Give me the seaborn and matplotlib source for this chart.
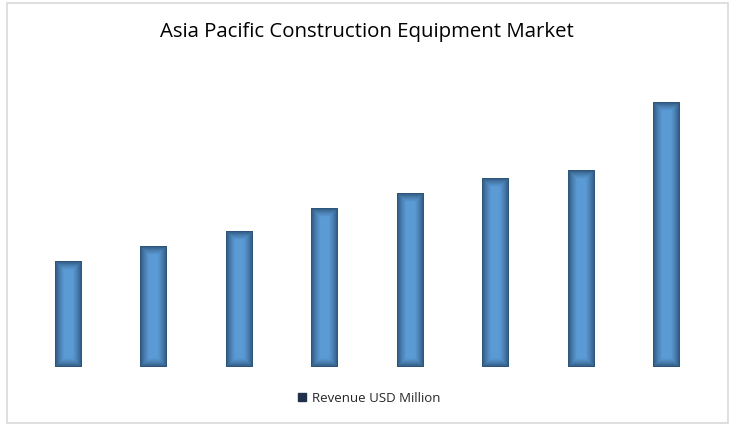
import numpy as np
import pandas as pd
import matplotlib
matplotlib.use("Agg")
import matplotlib.pyplot as plt
from matplotlib.patches import Rectangle
from matplotlib.lines import Line2D
from matplotlib.colors import to_rgb
import seaborn as sns

years = ["2017", "2018", "2019", "2020", "2021", "2022", "2023", "2024"]
revenue = [106, 121, 136, 159, 174, 189, 197, 265]

sns.set_style("white")
plt.rcParams['font.family'] = ['Open Sans', 'DejaVu Sans']

W, H = 741, 434
fig = plt.figure(figsize=(W / 100, H / 100), dpi=100)
left, right, top, bottom = 25.25, 709.25, 80, 367
ax = fig.add_axes([left / W, 1 - bottom / H, (right - left) / W, (bottom - top) / H])

df = pd.DataFrame({"year": years, "revenue": revenue})
sns.barplot(data=df, x="year", y="revenue", ax=ax, color="#5B9BD5", width=0.305,
            saturation=1, linewidth=0)
ax.set_ylim(0, bottom - top)
ax.set_xlim(-0.5, len(years) - 0.5)
ax.axis("off")

base = np.array(to_rgb("#5B9BD5"))
dark = np.array(to_rgb("#27496c"))
fig.canvas.draw()
for p in list(ax.patches):
    x0, y0 = p.get_x(), p.get_y()
    w, h = p.get_width(), p.get_height()
    (px0, py0) = ax.transData.transform((x0, y0))
    (px1, py1) = ax.transData.transform((x0 + w, y0 + h))
    nw, nh = max(int(round(px1 - px0)), 2), max(int(round(py1 - py0)), 2)
    xs = np.arange(nw) + 0.5
    ys = np.arange(nh) + 0.5
    dx = np.minimum(xs, nw - xs)[None, :]
    dy = np.minimum(ys, nh - ys)[:, None]
    d = np.minimum(dx, dy)
    t = np.clip(d / 9.0, 0, 1) ** 0.65
    img = dark[None, None, :] + (base - dark)[None, None, :] * t[:, :, None]
    im = ax.imshow(img, extent=[x0, x0 + w, y0, y0 + h], aspect="auto",
                   interpolation="bilinear", zorder=3)
    im.set_clip_path(p)
ax.set_xlim(-0.5, len(years) - 0.5)
ax.set_ylim(0, bottom - top)

fig.text(367 / W, 1 - 32 / H, "Asia Pacific Construction Equipment Market",
         ha="center", va="center", fontsize=14.7, color="#000000")

handle = Line2D([], [], marker="s", linestyle="none", markersize=6,
                markerfacecolor="#1f3048", markeredgecolor="#1f3048")
fig.legend([handle], ["Revenue USD Million"], loc="center",
           bbox_to_anchor=(368 / W, 1 - 398 / H), frameon=False, fontsize=9.5,
           handletextpad=0.2, handlelength=1.0)

fig.patches.append(Rectangle((7 / W, 1 - 423 / H), (728 - 7) / W, (423 - 3) / H,
                             transform=fig.transFigure, fill=False,
                             edgecolor="#d9d9d9", linewidth=1.2))

fig.savefig("out.png", dpi=100)
